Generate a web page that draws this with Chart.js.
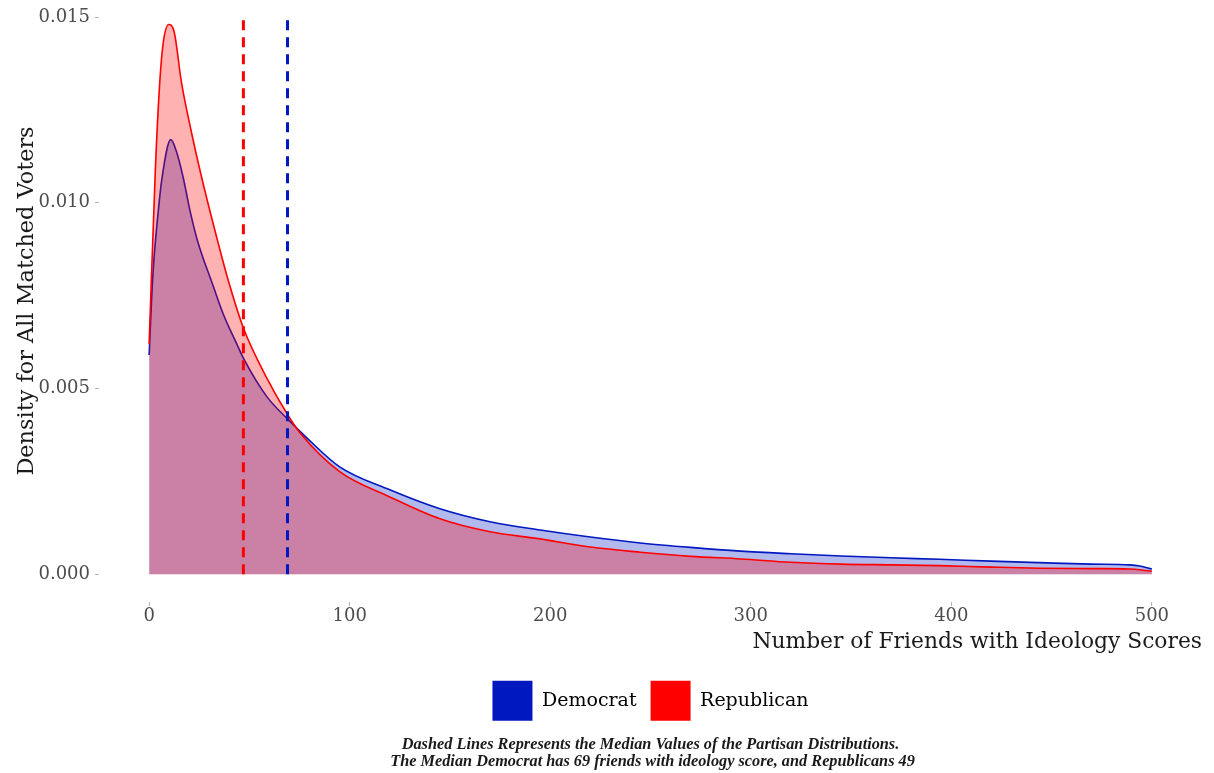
<!DOCTYPE html>
<html>
<head>
<meta charset="utf-8">
<script src="https://cdn.jsdelivr.net/npm/chart.js@4.4.1/dist/chart.umd.min.js"></script>
<style>
  html, body { margin: 0; padding: 0; background: #fff; }
  #wrap { width: 1214px; height: 773px; position: relative; }
</style>
</head>
<body>
<div id="wrap"><canvas id="densityChart"></canvas></div>
<script>
// tick values
const xTicks = [0, 100, 200, 300, 400, 500];
const yTicks = [0, 0.005, 0.01, 0.015];

// Democrat density
const demX = [0, 1.8, 4.6, 6.5, 10.8, 13.5, 16.9, 20.4, 24, 32, 37, 43.7, 47, 58.7, 69, 79, 95, 120, 145, 170, 195, 220, 245, 270, 295, 320, 345, 370, 394, 420, 444, 470, 489, 494, 500];
const demY = [0.0059, 0.0080, 0.0098, 0.0107, 0.0117, 0.0114, 0.0107, 0.00978, 0.0090, 0.00775, 0.0070, 0.0062, 0.00582, 0.00478, 0.00418, 0.00365, 0.00289, 0.00227, 0.00176, 0.00141, 0.00119, 0.00100, 0.00084, 0.00072, 0.00062, 0.00055, 0.00049, 0.00044, 0.00040, 0.00035, 0.00031, 0.00027, 0.00025, 0.00022, 0.00014];

// Republican density
const repX = [0, 3.1, 5.3, 7, 9.8, 12.5, 16.1, 21.1, 26.1, 34.5, 39.5, 47, 58.7, 69, 75.3, 95, 120, 145, 170, 195, 220, 245, 270, 295, 320, 345, 370, 394, 420, 444, 470, 489, 494, 500];
const repY = [0.0062, 0.0109, 0.01325, 0.0143, 0.0148, 0.0146, 0.01325, 0.0119, 0.0107, 0.0089, 0.0079, 0.00663, 0.00528, 0.0043, 0.0038, 0.00276, 0.00208, 0.00149, 0.00114, 0.00095, 0.00073, 0.00059, 0.00048, 0.00041, 0.00032, 0.00027, 0.00025, 0.00023, 0.00019, 0.00016, 0.00015, 0.00014, 0.00012, 0.00008];

// medians (dashed lines)
const medianDem = 69;
const medianRep = 47;

const DEM = "#0018c0";
const REP = "#ff0000";
const SERIF = "'DejaVu Serif', serif";
const CAPTION_FONT = "'Liberation Serif', serif";

const toPoints = (xs, ys) => xs.map((x, i) => ({ x, y: ys[i] }));
const vline = (x) => [{ x, y: 0 }, { x, y: 0.015 }];

const ctx = document.getElementById("densityChart").getContext("2d");

new Chart(ctx, {
  type: "line",
  data: {
    datasets: [
      {
        label: "Democrat",
        data: toPoints(demX, demY),
        borderColor: DEM,
        backgroundColor: "rgba(0, 24, 192, 0.3)",
        borderWidth: 1.6,
        fill: "origin",
        pointRadius: 0,
        cubicInterpolationMode: "monotone",
        order: 2,
      },
      {
        label: "Republican",
        data: toPoints(repX, repY),
        borderColor: REP,
        backgroundColor: "rgba(255, 0, 0, 0.3)",
        borderWidth: 1.6,
        fill: "origin",
        pointRadius: 0,
        cubicInterpolationMode: "monotone",
        order: 1,
      },
      {
        label: "median-rep",
        data: vline(medianRep),
        borderColor: REP,
        borderWidth: 3,
        borderDash: [10, 7],
        pointRadius: 0,
        fill: false,
        order: 0,
      },
      {
        label: "median-dem",
        data: vline(medianDem),
        borderColor: DEM,
        borderWidth: 3,
        borderDash: [10, 7],
        pointRadius: 0,
        fill: false,
        order: 0,
      },
    ],
  },
  options: {
    responsive: true,
    maintainAspectRatio: false,
    animation: false,
    layout: { padding: { left: 0, right: 12, top: 0, bottom: 0 } },
    plugins: {
      tooltip: { enabled: false },
      legend: {
        position: "bottom",
        fullSize: false,
        labels: {
          boxWidth: 40,
          boxHeight: 40,
          padding: 14,
          color: "#1a1a1a",
          font: { family: SERIF, size: 19 },
          filter: (item) => item.datasetIndex < 2,
          sort: (a, b) => a.datasetIndex - b.datasetIndex,
          generateLabels: () => [
            { text: "Democrat", fillStyle: DEM, strokeStyle: DEM, lineWidth: 0, datasetIndex: 0 },
            { text: "Republican", fillStyle: REP, strokeStyle: REP, lineWidth: 0, datasetIndex: 1 },
          ],
        },
      },
      subtitle: {
        display: true,
        position: "bottom",
        fullSize: false,
        text: [
          "Dashed Lines Represents the Median Values of the Partisan Distributions.",
          " The Median Democrat has 69 friends with ideology score, and Republicans 49",
        ],
        color: "#1a1a1a",
        font: { family: CAPTION_FONT, size: 16.3, weight: "bold", style: "italic", lineHeight: 1.05 },
        padding: { top: 5, bottom: 3 },
      },
    },
    scales: {
      x: {
        type: "linear",
        min: -25,
        max: 525,
        afterBuildTicks: (s) => { s.ticks = xTicks.map((v) => ({ value: v })); },
        border: { display: false },
        grid: { drawOnChartArea: false, tickLength: 4, tickColor: "#b3b3b3" },
        ticks: {
          color: "#4d4d4d",
          font: { family: SERIF, size: 18 },
          padding: 0,
          maxRotation: 0,
        },
        title: {
          display: true,
          text: "Number of Friends with Ideology Scores",
          align: "end",
          color: "#1a1a1a",
          font: { family: SERIF, size: 21.8 },
          padding: { top: 2, bottom: 11 },
        },
      },
      y: {
        min: -0.00075,
        max: 0.01546,
        afterBuildTicks: (s) => { s.ticks = yTicks.map((v) => ({ value: v })); },
        afterFit: (s) => {
          s.width = 99;
          s.paddingTop = 0;
          s.paddingBottom = 0;
        },
        border: { display: false },
        grid: { drawOnChartArea: false, tickLength: 4, tickColor: "#b3b3b3" },
        ticks: {
          color: "#4d4d4d",
          font: { family: SERIF, size: 18 },
          padding: 5,
          callback: (v) => v.toFixed(3),
        },
        title: {
          display: true,
          text: "Density for All Matched Voters",
          color: "#1a1a1a",
          font: { family: SERIF, size: 22.4 },
          padding: { top: 14, bottom: 0 },
        },
      },
    },
  },
});
</script>
</body>
</html>
